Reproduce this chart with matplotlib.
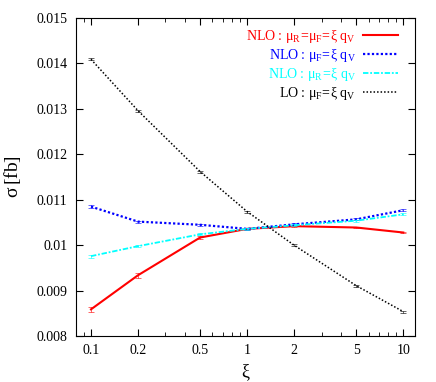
import matplotlib
matplotlib.use("Agg")
import matplotlib.pyplot as plt
from matplotlib.ticker import FixedLocator, LogLocator, NullFormatter

plt.rcParams["font.family"] = ["Liberation Serif", "DejaVu Serif"]
plt.rcParams["mathtext.fontset"] = "custom"
plt.rcParams["mathtext.rm"] = "Liberation Serif"
plt.rcParams["mathtext.it"] = "Liberation Serif"

xi = [0.1, 0.2, 0.5, 1, 2, 5, 10]

nlo_rf = [0.00859, 0.00934, 0.01017, 0.01036, 0.01042, 0.01039, 0.01028]
nlo_f = [0.01085, 0.01052, 0.01045, 0.01036, 0.01046, 0.01057, 0.01077]
nlo_r = [0.00976, 0.00998, 0.01024, 0.01036, 0.01044, 0.01054, 0.01068]
lo_f = [0.01409, 0.01296, 0.01162, 0.01074, 0.01000, 0.00911, 0.00854]

err_rf = [0.00006, 0.00005, 0.00003, 0.00002, 0.00002, 0.00002, 0.00002]
err_f = [0.00003, 0.00002, 0.00002, 0.00002, 0.00002, 0.00002, 0.00002]
err_r = [0.00003, 0.00002, 0.00002, 0.00002, 0.00002, 0.00002, 0.00002]
err_lo = [0.00002] * 7

xticks = [0.1, 0.2, 0.5, 1, 2, 5, 10]
xticklabels = ["0.1", "0.2", "0.5", "1", "2", "5", "10"]
yticks = [0.008, 0.009, 0.01, 0.011, 0.012, 0.013, 0.014, 0.015]
yticklabels = ["0.008", "0.009", "0.01", "0.011", "0.012", "0.013", "0.014", "0.015"]

series = [
    (nlo_rf, err_rf, "red", "-", 1.5, r"NLO : $\mathrm{\mu_R\!=\!\mu_F\!=\!\xi\ q_V}$"),
    (nlo_f, err_f, "blue", (0, (1, 1)), 1.6, r"NLO : $\mathrm{\mu_F\!=\!\xi\ q_V}$"),
    (nlo_r, err_r, "cyan", (0, (3, 1, 1, 1)), 1.3, r"NLO : $\mathrm{\mu_R\!=\!\xi\ q_V}$"),
    (lo_f, err_lo, "black", (0, (1, 1.3)), 1.1, r"LO : $\mathrm{\mu_F\!=\!\xi\ q_V}$"),
]

fig = plt.figure(figsize=(4.36, 3.82), dpi=100)
ax = fig.add_axes([0.174, 0.12, 0.778, 0.833])

for vals, errs, col, ls, lw, lab in series:
    ax.plot(xi, vals, color=col, linestyle=ls, linewidth=lw, label=lab)
    ax.errorbar(xi, vals, yerr=errs, fmt="none", ecolor=col, elinewidth=0.7,
                capsize=2, capthick=0.7, alpha=0.6)

ax.set_xscale("log")
ax.set_xlim(0.08, 11.9)
ax.set_ylim(0.008, 0.015)
ax.xaxis.set_major_locator(FixedLocator(xticks))
ax.set_xticklabels(xticklabels)
ax.xaxis.set_minor_locator(LogLocator(base=10, subs=range(1, 10), numticks=20))
ax.xaxis.set_minor_formatter(NullFormatter())
ax.set_yticks(yticks)
ax.set_yticklabels(yticklabels)
ax.tick_params(which="both", direction="in", top=True, right=True, labelsize=10)
ax.tick_params(which="major", length=5)
ax.tick_params(which="minor", length=3)
ax.tick_params(axis="x", pad=6)
ax.tick_params(axis="y", pad=6)

ax.set_xlabel(r"$\mathrm{\xi}$", fontsize=13)
ax.xaxis.set_label_coords(0.5, -0.082)
ax.set_ylabel(r"$\mathrm{\sigma\,[fb]}$", fontsize=14)
ax.yaxis.set_label_coords(-0.155, 0.5)

leg = ax.legend(loc="upper right", frameon=False, markerfirst=False, fontsize=10,
                handlelength=2.5, handletextpad=0.5, labelspacing=0.15,
                borderaxespad=0.1, bbox_to_anchor=(0.97, 0.99))
for txt, (_v, _e, col, _ls, _lw, _l) in zip(leg.get_texts(), series):
    txt.set_color(col)
    txt.set_ha("right")

fig.savefig("out.png", dpi=100)
